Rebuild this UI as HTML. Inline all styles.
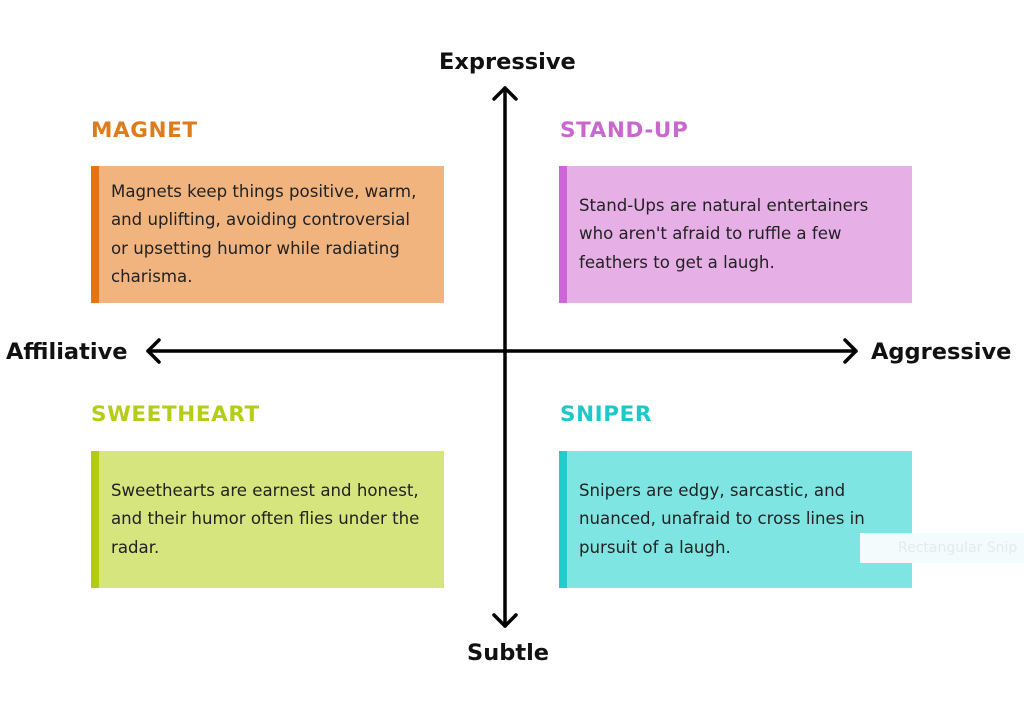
<!DOCTYPE html>
<html><head><meta charset="utf-8"><style>
body{margin:0;width:1024px;height:706px;background:#fff;position:relative;overflow:hidden;font-family:"DejaVu Sans","Liberation Sans",sans-serif;}
.t{position:absolute;font-weight:bold;font-size:21.5px;letter-spacing:0.6px;line-height:24px;}
.ax{position:absolute;font-weight:bold;font-size:22.5px;line-height:24px;color:#111;}
.b{position:absolute;width:345px;height:137px;border-left:8px solid;box-sizing:content-box;display:flex;align-items:center;}
.b p{margin:0;padding-left:12px;font-size:16.6px;line-height:28.5px;color:#222;width:318px;}
</style></head><body>
<svg width="1024" height="706" style="position:absolute;left:0;top:0">
<g stroke="#000" stroke-width="3.5" fill="none" stroke-linecap="round" stroke-linejoin="round">
<line x1="505" y1="88" x2="505" y2="626"/>
<line x1="148" y1="351" x2="856" y2="351"/>
<polyline points="494,99 505,88 516,99"/>
<polyline points="494,615 505,626 516,615"/>
<polyline points="159,340 148,351 159,362"/>
<polyline points="845,340 856,351 845,362"/>
</g></svg>
<div class="ax" style="left:439px;top:50px">Expressive</div>
<div class="ax" style="left:467px;top:641px">Subtle</div>
<div class="ax" style="left:6px;top:340px">Affiliative</div>
<div class="ax" style="left:871px;top:340px">Aggressive</div>

<div class="t" style="left:91px;top:119px;color:#e07b1a">MAGNET</div>
<div class="b" style="left:91px;top:166px;background:#f2b47e;border-color:#e8730f"><p>Magnets keep things positive, warm, and uplifting, avoiding controversial or upsetting humor while radiating charisma.</p></div>

<div class="t" style="left:560px;top:119px;color:#c966d0">STAND-UP</div>
<div class="b" style="left:559px;top:166px;background:#e6b0e6;border-color:#cc66d9"><p>Stand-Ups are natural entertainers who aren't afraid to ruffle a few feathers to get a laugh.</p></div>

<div class="t" style="left:91px;top:403px;color:#b5cc1a">SWEETHEART</div>
<div class="b" style="left:91px;top:451px;background:#d6e57d;border-color:#b3cc11"><p>Sweethearts are earnest and honest, and their humor often flies under the radar.</p></div>

<div class="t" style="left:560px;top:403px;color:#1ec8c8">SNIPER</div>
<div class="b" style="left:559px;top:451px;background:#7fe5e3;border-color:#22cccc"><p>Snipers are edgy, sarcastic, and nuanced, unafraid to cross lines in pursuit of a laugh.</p></div>

<div style="position:absolute;left:860px;top:533px;width:164px;height:30px;background:#f4fbfc;color:#e0eced;font-size:14px;line-height:30px;padding-left:38px;box-sizing:border-box">Rectangular Snip</div>
</body></html>
